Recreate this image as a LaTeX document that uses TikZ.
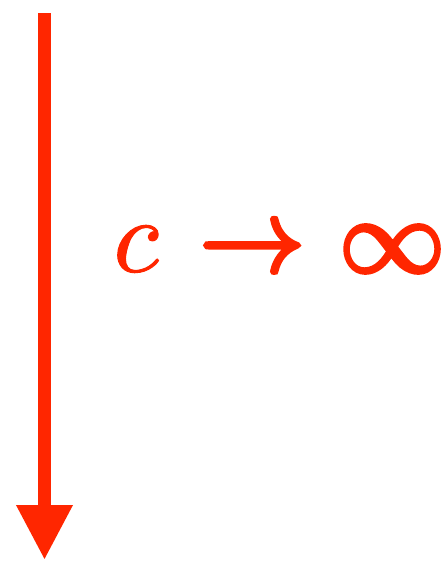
\documentclass[tikz,border=0pt]{standalone}
\usepackage{amsmath}
\usepackage{amssymb}
\usetikzlibrary{arrows.meta}
\definecolor{limitred}{RGB}{255,38,0}
% heavier glyphs: fill and stroke the outlines
\newcommand{\heavytext}[2]{\special{pdf:literal direct 2 Tr #1 w}#2\special{pdf:literal direct 0 Tr}}

\begin{document}
\begin{tikzpicture}[x=1pt,y=1pt,
    flow/.style = {draw=limitred, line width=13pt, -{Triangle[length=55pt,width=53pt]}},
    label/.style = {text=limitred, inner sep=0pt, scale=10.5, transform shape}]
        \useasboundingbox (0,0) rectangle (447,-563);
        \coordinate (top) at (44.5,-13);
        \coordinate (bottom) at (44.5,-560);
        \node[label] (limit) at (279,-249)
          {\heavytext{0.1}{$c$}\heavytext{0.4}{$\mskip2mu{}\to\mskip1mu \infty$}};
        \draw[flow] (top) -- (bottom);
      \end{tikzpicture}
\end{document}
